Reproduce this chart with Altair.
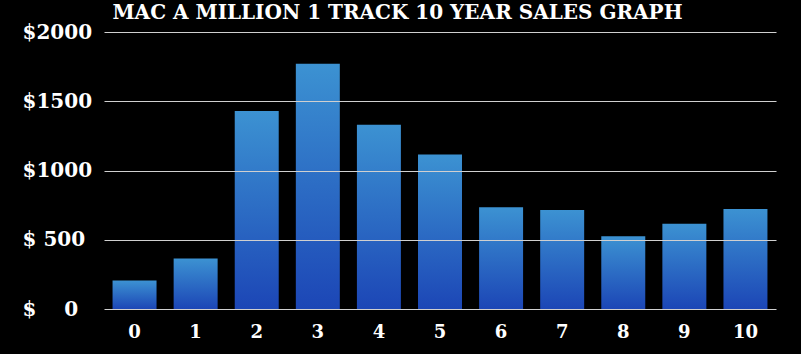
import altair as alt
import pandas as pd

years = ["0", "1", "2", "3", "4", "5", "6", "7", "8", "9", "10"]
sales = [205, 365, 1430, 1770, 1330, 1115, 735, 715, 525, 615, 722]
title_text = "MAC A MILLION 1 TRACK 10 YEAR SALES GRAPH"
y_ticks = [0, 500, 1000, 1500, 2000]

df = pd.DataFrame({"year": years, "sales": sales})
title_df = pd.DataFrame({"t": [title_text]})

FONT = "DejaVu Serif"

bars = alt.Chart(df).mark_bar(
    color=alt.Gradient(
        gradient="linear",
        stops=[alt.GradientStop(color="#1c46b6", offset=0),
               alt.GradientStop(color="#3c92d2", offset=1)],
        x1=0, x2=0, y1=1, y2=0,
    )
).encode(
    x=alt.X("year:N", sort=years,
            scale=alt.Scale(paddingInner=0.28, paddingOuter=0.14),
            axis=alt.Axis(title=None, labelAngle=0, labelColor="white",
                          labelFont=FONT, labelFontWeight="bold", labelFontSize=18,
                          labelPadding=14, ticks=False, domain=False, grid=False)),
    y=alt.Y("sales:Q", scale=alt.Scale(domain=[0, 2000], nice=False),
            axis=alt.Axis(title=None, values=y_ticks, labelColor="white",
                          labelFont=FONT, labelFontWeight="bold", labelFontSize=20,
                          labelAlign="left", labelPadding=82, ticks=False, tickSize=0,
                          domain=False, grid=True, gridColor="#d0d0d0", gridWidth=1,
                          gridOpacity=1, zindex=1,
                          labelExpr="datum.value == 0 ? '$\u00a0\u00a0\u00a0\u00a0' + '0' : (datum.value < 1000 ? '$\u00a0' + datum.value : '$' + datum.value)")),
)

title = alt.Chart(title_df).mark_text(
    color="white", font=FONT, fontWeight="bold", fontSize=20,
    align="center", baseline="alphabetic",
).encode(text="t:N", x=alt.value(293.5), y=alt.value(-13))

chart = alt.layer(bars, title).properties(
    width=672, height=277,
    autosize=alt.AutoSizeParams(type="none"),
    padding={"left": 104, "top": 32, "right": 25, "bottom": 45},
).configure(background="black").configure_view(stroke=None)

chart.save("out.html", embed_options={"renderer": "svg", "actions": False})
